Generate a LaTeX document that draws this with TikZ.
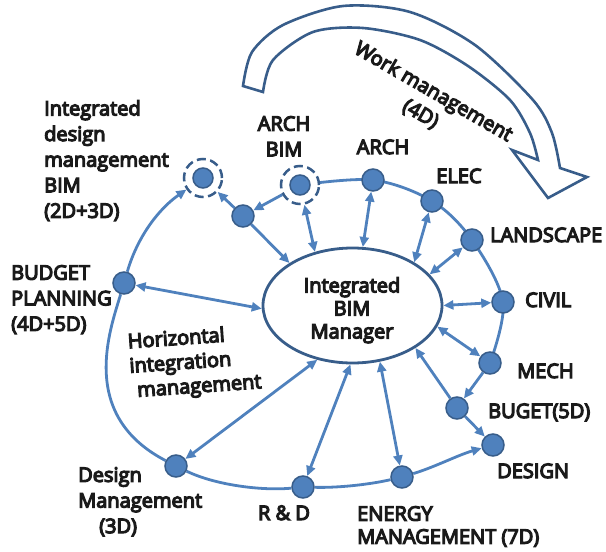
\documentclass[tikz,border=0pt]{standalone}
\usepackage{fontspec}
\newfontfamily\labfont{Open Sans}[FakeBold=6]
\usetikzlibrary{arrows.meta,shapes.geometric,backgrounds}
\definecolor{lblue}{HTML}{4F81BD}
\definecolor{dblue}{HTML}{385D8A}
\definecolor{txt}{HTML}{1A1A1A}
\tikzset{
  conn/.style={draw=lblue, line width=2.8pt},
  arr/.style={conn, -{Triangle[length=10pt,width=9pt]}},
  dbl/.style={conn, {Triangle[length=10pt,width=9pt]}-{Triangle[length=10pt,width=9pt]}},
  dot/.style={circle, fill=lblue, draw=dblue, line width=1.5pt, minimum size=22pt, inner sep=0pt},
  ring/.style={circle, draw=dblue, dash pattern=on 9pt off 4.5pt, line width=2.5pt, fill=white, minimum size=38pt, inner sep=0pt},
  lab/.style={font=\labfont\fontsize{20}{25.6}\selectfont, text=txt, inner sep=0pt},
  lab23/.style={font=\labfont\fontsize{20}{23}\selectfont, text=txt, inner sep=0pt},
  bigarrow/.style={draw=dblue, line width=2.6pt, fill=white},
  mgr/.style={ellipse, draw=dblue, line width=2.8pt, fill=white, minimum width=179pt, minimum height=115pt, inner sep=0pt}
}
\begin{document}
\begin{tikzpicture}[x=1pt,y=-1pt]
\useasboundingbox (0,0) rectangle (606,552);
% work management arrow
\draw[bigarrow] plot[smooth] coordinates {(243,86) (252,52) (283,25) (343,6) (410,12) (475,45) (533,100) (552,133) (560,168)}
  -- (587,177) -- (548,198) -- (512,150) -- (538,160)
  -- plot[smooth] coordinates {(538,160) (530,133) (510,100) (468,66) (420,40) (363,28) (313,32) (273,60) (263,92)} -- cycle;
\node[lab, align=center, rotate=-30] (lwork) at (427,103) {Work management\\(4D)};
% nodes
\node[mgr] (ell) at (352.5,305.5) {};
\node[ring] (idm) at (203,178) {};
\node[dot, minimum size=20pt] (idmdot) at (idm) {};
\node[ring] (archbim) at (300,185) {};
\node[dot, minimum size=20pt] (archbimdot) at (archbim) {};
\node[dot] (small) at (243,216) {};
\node[dot] (arch) at (373,180) {};
\node[dot] (elec) at (432,201) {};
\node[dot] (land) at (472,240) {};
\node[dot] (civil) at (503,302) {};
\node[dot] (mech) at (490,363) {};
\node[dot] (buget) at (457,408) {};
\node[dot] (design) at (493,445) {};
\node[dot] (energy) at (402,477) {};
\node[dot] (rd) at (303,487) {};
\node[dot] (dm) at (176,466) {};
\node[dot] (bp) at (124,283) {};
% connectors
\begin{scope}[on background layer]
\draw[conn] plot[smooth, tension=0.55] coordinates {(archbim.center) (arch.center) (elec.center) (land.center) (civil.center) (mech.center)};
\draw[arr] (mech) -- (buget);
\draw[arr] (buget) -- (design);
\draw[conn] (dm) .. controls (215,485) and (262,491) .. (rd);
\draw[conn] (rd) .. controls (340,488) and (372,484) .. (energy);
\draw[arr] (energy) .. controls (435,467) and (458,455) .. (design);
\draw[conn] (dm) .. controls (78,415) and (110,330) .. (bp);
\draw[arr] (bp) .. controls (138,235) and (160,208) .. (idm);
\draw[arr] (archbim) -- (small);
\draw[arr] (small) -- (idm);
\draw[arr] (small) -- (ell.146);
\draw[dbl] (archbim) -- (ell.125);
\draw[dbl] (arch) -- (ell.80);
\draw[dbl] (elec) -- (ell.35);
\draw[dbl] (land) -- (ell.22);
\draw[dbl] (civil) -- (ell.0);
\draw[dbl] (mech) -- (ell.-14);
\draw[arr] (buget) -- (ell.-34);
\draw[dbl] (energy) -- (ell.-64);
\draw[dbl] (rd) -- (ell.-92);
\draw[dbl] (dm) -- (ell.-123);
\draw[dbl] (bp) -- (ell.182);
\end{scope}
% labels
\node[lab23, align=center, anchor=north] (lell) at (352,277) {Integrated\\BIM\\Manager};
\node[lab, anchor=north west, align=left] (lidm) at (44,100) {Integrated\\design\\management\\BIM\\(2D+3D)};
\node[lab, anchor=north, align=center] (larchbim) at (284,116) {ARCH\\BIM};
\node[lab, anchor=base] (larch) at (383,154) {ARCH};
\node[lab, anchor=base] (lelec) at (459,183) {ELEC};
\node[lab, anchor=base west] (lland) at (490,242) {LANDSCAPE};
\node[lab, anchor=base west] (lcivil) at (525,307) {CIVIL};
\node[lab, anchor=base west] (lmech) at (517,378) {MECH};
\node[lab, anchor=base west] (lbuget) at (488,418) {BUGET(5D)};
\node[lab, anchor=base west] (ldesign) at (497,478) {DESIGN};
\node[lab, anchor=north west, align=left] (ldm) at (78,467) {Design\\Management\\\hspace*{21pt}(3D)};
\node[lab, anchor=base] (lrd) at (284,520) {R \& D};
\node[lab23, anchor=north west, align=left] (lenergy) at (357,506) {ENERGY\\MANAGEMENT (7D)};
\node[lab, anchor=north west, align=left] (lbp) at (11,265) {BUDGET\\PLANNING\\(4D+5D)};
\node[lab, anchor=north west, align=left, rotate=4, font=\labfont\fontsize{20}{24.5}\selectfont] (lhor) at (127,333) {Horizontal\\integration\\\hspace*{6pt}management};
\end{tikzpicture}
\end{document}
